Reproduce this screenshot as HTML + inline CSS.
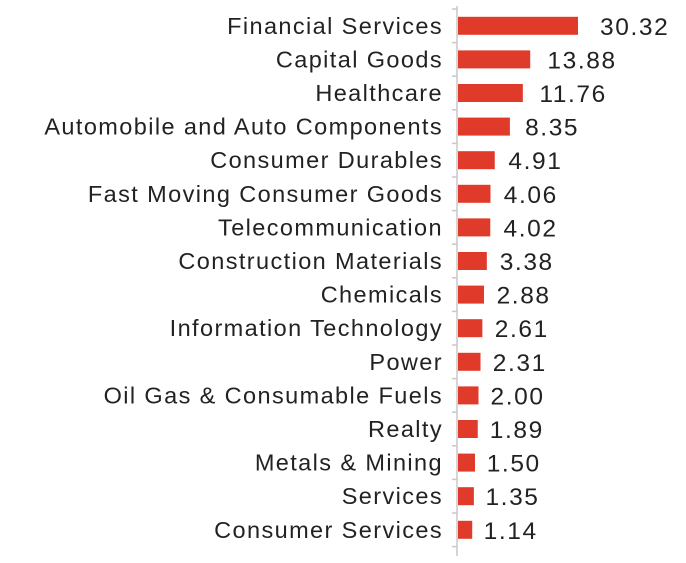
<!DOCTYPE html>
<html><head><meta charset="utf-8"><style>
html,body{margin:0;padding:0;background:#fff;}
svg{display:block;font-family:"Liberation Sans",sans-serif;}
</style></head><body>
<svg id="chart" width="686" height="563" viewBox="0 0 686 563"></svg>
<script>
const categories = ["Financial Services","Capital Goods","Healthcare","Automobile and Auto Components","Consumer Durables","Fast Moving Consumer Goods","Telecommunication","Construction Materials","Chemicals","Information Technology","Power","Oil Gas & Consumable Fuels","Realty","Metals & Mining","Services","Consumer Services"];
const values = [30.32,13.88,11.76,8.35,4.91,4.06,4.02,3.38,2.88,2.61,2.31,2.00,1.89,1.50,1.35,1.14];
const valueLabels = ["30.32","13.88","11.76","8.35","4.91","4.06","4.02","3.38","2.88","2.61","2.31","2.00","1.89","1.50","1.35","1.14"];

const NS="http://www.w3.org/2000/svg";
const svgEl=document.getElementById('chart');
const x0=458, topY=9, step=33.6, barH=18;
const maxV=Math.max(...values);
function xScale(v){return 120*Math.pow(v/maxV,0.65);}
function yBand(i){return topY+i*step;}
function mk(t,a){const e=document.createElementNS(NS,t);for(const k in a)e.setAttribute(k,a[k]);svgEl.appendChild(e);return e;}

const axis=mk('line',{x1:457,y1:6,x2:457,y2:556,stroke:'#c8c8c8','stroke-width':1.5});


for(let i=0;i<=categories.length;i++){
  const t=mk('line',{x1:452,x2:457,y1:yBand(i),y2:yBand(i),stroke:'#c8c8c8','stroke-width':1.5});
  
  
}
categories.forEach((c,i)=>{
  const cy=yBand(i)+step/2;
  const w=xScale(values[i]);
  const r=mk('rect',{x:x0,y:cy-barH/2,width:w,height:barH,fill:'#e03a2a'});
  
  
  const lt=mk('text',{x:443,y:cy+8,'text-anchor':'end','font-size':23.5,'letter-spacing':1.4,fill:'#222'});
  lt.textContent=c;
  
  
  const vt=mk('text',{x:x0+w+10+w*0.1,y:cy+9,'font-size':24.5,'letter-spacing':1.6,fill:'#222'});
  vt.textContent=valueLabels[i];
  
  
});
</script>
</body></html>
